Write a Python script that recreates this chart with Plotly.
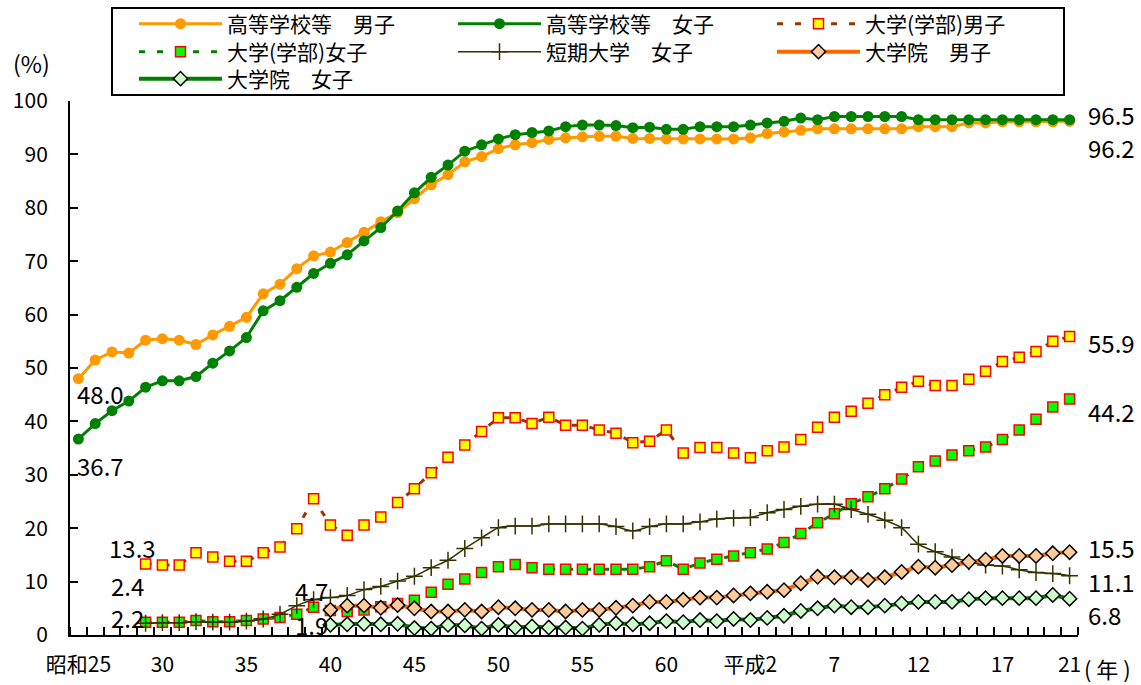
import plotly.graph_objects as go

# ---------------- data ----------------
years = list(range(1950, 2010))

hs_m = [48.0, 51.5, 53.0, 52.8, 55.2, 55.5, 55.2, 54.4, 56.2, 57.8,
        59.5, 63.9, 65.7, 68.6, 71.0, 71.7, 73.5, 75.4, 77.4, 79.1,
        81.7, 84.3, 86.2, 88.6, 89.6, 91.1, 91.8, 92.2, 92.8, 93.1,
        93.3, 93.4, 93.4, 93.0, 93.0, 92.9, 92.9, 92.9, 92.9, 92.9,
        93.1, 93.9, 94.2, 94.5, 94.8, 94.8, 94.8, 94.8, 94.8, 94.8,
        95.2, 95.2, 95.2, 95.9, 95.9, 96.1, 96.1, 96.1, 96.1, 96.2]

hs_f = [36.7, 39.6, 42.0, 43.8, 46.4, 47.6, 47.6, 48.4, 50.9, 53.2,
        55.7, 60.7, 62.6, 65.1, 67.7, 69.6, 71.2, 73.8, 76.3, 79.4,
        82.8, 85.7, 88.0, 90.6, 91.8, 92.9, 93.7, 94.1, 94.4, 95.2,
        95.5, 95.5, 95.4, 95.0, 95.1, 94.7, 94.7, 95.2, 95.2, 95.2,
        95.5, 95.9, 96.2, 96.8, 96.5, 97.1, 97.1, 97.1, 97.1, 97.1,
        96.5, 96.5, 96.5, 96.5, 96.5, 96.5, 96.5, 96.5, 96.5, 96.5]

N = None
univ_m = [N, N, N, N, 13.3, 13.1, 13.1, 15.4, 14.6, 13.8,
          13.8, 15.4, 16.5, 19.9, 25.5, 20.6, 18.7, 20.6, 22.1, 24.8,
          27.4, 30.4, 33.3, 35.6, 38.1, 40.7, 40.7, 39.6, 40.8, 39.3,
          39.3, 38.4, 37.8, 36.0, 36.3, 38.4, 34.1, 35.1, 35.1, 34.1,
          33.2, 34.5, 35.2, 36.6, 38.9, 40.8, 41.9, 43.4, 45.0, 46.4,
          47.5, 46.7, 46.7, 47.9, 49.4, 51.2, 52.0, 53.1, 55.0, 55.9]

univ_f = [N, N, N, N, 2.4, 2.4, 2.4, 2.7, 2.5, 2.5,
          2.7, 3.0, 3.3, 3.9, 5.2, 4.6, 4.4, 4.7, 5.3, 5.9,
          6.5, 8.0, 9.5, 10.5, 11.7, 12.8, 13.2, 12.6, 12.3, 12.3,
          12.3, 12.3, 12.3, 12.3, 12.8, 13.9, 12.3, 13.5, 14.2, 14.8,
          15.4, 16.1, 17.3, 19.0, 21.0, 22.7, 24.6, 25.9, 27.4, 29.2,
          31.5, 32.6, 33.7, 34.5, 35.2, 36.6, 38.4, 40.4, 42.7, 44.2]

jc_f = [N, N, N, N, 2.2, 2.3, 2.3, 2.5, 2.4, 2.4,
        2.6, 3.0, 3.9, 5.5, 6.6, 7.0, 7.4, 8.5, 9.1, 10.1,
        11.0, 12.6, 14.0, 16.2, 18.2, 20.1, 20.4, 20.4, 20.8, 20.8,
        20.8, 20.8, 20.3, 19.5, 20.3, 20.8, 20.8, 21.2, 21.7, 21.9,
        22.0, 22.9, 23.5, 24.1, 24.5, 24.5, 23.5, 22.6, 21.5, 20.1,
        17.0, 15.6, 14.6, 13.7, 13.1, 12.9, 12.2, 11.7, 11.5, 11.1]

gs_m = [N] * 15 + [
        4.7, 5.5, 5.5, 5.1, 5.6,
        5.0, 4.4, 4.4, 4.7, 4.4, 5.2, 5.0, 4.7, 4.7, 4.4,
        4.7, 4.7, 5.1, 5.5, 6.2, 6.2, 6.6, 7.0, 7.0, 7.4,
        7.8, 8.1, 8.4, 9.7, 10.9, 10.8, 10.8, 10.3, 10.8, 11.8,
        12.8, 12.6, 13.1, 13.7, 14.1, 14.8, 14.8, 14.8, 15.3, 15.5]

gs_f = [N] * 15 + [
        1.9, 2.0, 2.1, 2.0, 2.1,
        1.3, 1.2, 1.9, 1.8, 1.2, 1.9, 1.4, 1.6, 1.4, 1.4,
        1.2, 1.9, 2.2, 2.0, 2.2, 2.6, 2.4, 2.8, 2.6, 3.0,
        2.8, 3.2, 3.6, 4.5, 5.0, 5.5, 5.2, 5.2, 5.5, 5.9,
        6.2, 6.2, 6.2, 6.7, 6.9, 6.9, 6.9, 6.9, 7.5, 6.8]

series_names = ["高等学校等　男子", "高等学校等　女子", "大学(学部)男子",
                "大学(学部)女子", "短期大学　女子", "大学院　男子", "大学院　女子"]

x_tick_years = [1950, 1955, 1960, 1965, 1970, 1975, 1980, 1985,
                1990, 1995, 2000, 2005, 2009]
x_tick_text = ["昭和25", "30", "35", "40", "45", "50", "55", "60",
               "平成2", "7", "12", "17", "21"]

# value labels: (text, year position, value position)
left_labels = [("48.0", 1949.8, 45.3), ("36.7", 1949.8, 31.7),
               ("13.3", 1951.7, 16.4), ("2.4", 1951.8, 9.3),
               ("2.2", 1951.8, 3.3), ("4.7", 1962.8, 8.3),
               ("1.9", 1962.8, 2.0)]
right_labels = [("96.5", 97.5), ("96.2", 91.3), ("55.9", 54.7),
                ("44.2", 41.8), ("15.5", 16.4), ("11.1", 10.0), ("6.8", 3.8)]

FONT = "Noto Sans CJK JP"

# ---------------- geometry helpers (pixels -> paper) ----------------
W, H = 1141, 685
ML, MR, MT, MB = 70, 63, 101, 50
PW, PH = W - ML - MR, H - MT - MB


def px_x(px):
    return (px - ML) / PW


def px_y(py):
    return (H - MB - py) / PH


fig = go.Figure()

legend_of = ["legend", "legend", "legend", "legend2", "legend2", "legend2", "legend3"]

fig.add_trace(go.Scatter(
    x=years, y=hs_m, name=series_names[0], mode="lines+markers", legend=legend_of[0],
    line=dict(color="#FF9900", width=3),
    marker=dict(symbol="circle", size=11, color="#FF9900")))
fig.add_trace(go.Scatter(
    x=years, y=hs_f, name=series_names[1], mode="lines+markers", legend=legend_of[1],
    line=dict(color="#008000", width=3),
    marker=dict(symbol="circle", size=11, color="#008000")))
fig.add_trace(go.Scatter(
    x=years, y=univ_m, name=series_names[2], mode="lines+markers", legend=legend_of[2],
    line=dict(color="#993300", width=3, dash="6px,12px"),
    marker=dict(symbol="square", size=10, color="#FFFF00",
                line=dict(color="#FF0000", width=1.5))))
fig.add_trace(go.Scatter(
    x=years, y=univ_f, name=series_names[3], mode="lines+markers", legend=legend_of[3],
    line=dict(color="#008000", width=3, dash="6px,12px"),
    marker=dict(symbol="square", size=10, color="#00FF00",
                line=dict(color="#FF0000", width=1.5))))
fig.add_trace(go.Scatter(
    x=years, y=jc_f, name=series_names[4], mode="lines+markers", legend=legend_of[4],
    line=dict(color="#333300", width=1.5, shape="spline", smoothing=0.6),
    marker=dict(symbol="cross-thin", size=12, color="#333300",
                line=dict(color="#333300", width=1.5))))
fig.add_trace(go.Scatter(
    x=years, y=gs_m, name=series_names[5], mode="lines+markers", legend=legend_of[5],
    line=dict(color="#FF6600", width=4),
    marker=dict(symbol="diamond", size=11, color="#FFCC99",
                line=dict(color="#000000", width=1.5))))
fig.add_trace(go.Scatter(
    x=years, y=gs_f, name=series_names[6], mode="lines+markers", legend=legend_of[6],
    line=dict(color="#008000", width=4),
    marker=dict(symbol="diamond", size=11, color="#CCFFCC",
                line=dict(color="#000000", width=1.5))))

annotations = []
for t, xv, yv in left_labels:
    annotations.append(dict(x=xv, y=yv, xref="x", yref="y", text=t,
                            showarrow=False, xanchor="left", yanchor="middle",
                            font=dict(size=24, color="black", family=FONT)))
for t, yv in right_labels:
    annotations.append(dict(x=px_x(1086), y=yv, xref="paper", yref="y", text=t,
                            showarrow=False, xanchor="left", yanchor="middle",
                            font=dict(size=24, color="black", family=FONT)))
annotations.append(dict(x=px_x(11), y=px_y(63), xref="paper", yref="paper",
                        text="(%)", showarrow=False, xanchor="left",
                        yanchor="middle",
                        font=dict(size=23, color="black", family=FONT)))
annotations.append(dict(x=px_x(1082), y=px_y(668), xref="paper", yref="paper",
                        text="( 年 )", showarrow=False, xanchor="left",
                        yanchor="middle",
                        font=dict(size=22, color="black", family=FONT)))

leg_common = dict(orientation="h", xref="paper", yref="paper",
                  xanchor="left", yanchor="middle",
                  entrywidth=221, entrywidthmode="pixels", itemwidth=83,
                  font=dict(size=21, family=FONT, color="black"),
                  borderwidth=0, bgcolor="rgba(0,0,0,0)")

fig.update_layout(
    width=W, height=H,
    margin=dict(l=ML, r=MR, t=MT, b=MB, autoexpand=False),
    paper_bgcolor="white", plot_bgcolor="white",
    font=dict(family=FONT, size=21, color="black"),
    showlegend=True,
    legend=dict(x=px_x(134), y=px_y(24), **leg_common),
    legend2=dict(x=px_x(134), y=px_y(52), **leg_common),
    legend3=dict(x=px_x(134), y=px_y(79), **leg_common),
    annotations=annotations,
    shapes=[dict(type="rect", xref="paper", yref="paper",
                 x0=px_x(112), x1=px_x(1064), y0=px_y(95), y1=px_y(8),
                 line=dict(color="black", width=2), fillcolor="rgba(0,0,0,0)",
                 layer="above")],
)

fig.update_xaxes(
    range=[1949.5, 2009.5], showgrid=False, zeroline=False, automargin=False,
    showline=True, linecolor="black", linewidth=2,
    tickmode="array", tickvals=x_tick_years, ticktext=x_tick_text,
    ticks="", ticklabelstandoff=10,
    tickfont=dict(size=21, family=FONT, color="black"),
    minor=dict(tickmode="linear", tick0=1949.5, dtick=1, ticks="inside",
               ticklen=8, tickwidth=1.5, tickcolor="black", showgrid=False),
)
fig.update_yaxes(
    range=[0, 100], showgrid=False, zeroline=False, automargin=False,
    showline=True, linecolor="black", linewidth=2,
    tickmode="linear", tick0=0, dtick=10,
    ticks="inside", ticklen=8, tickwidth=1.5, tickcolor="black",
    ticklabelstandoff=16,
    tickfont=dict(size=21, family=FONT, color="black"),
)

fig.write_html("out.html",
               config={"displayModeBar": False},
               post_script="document.body.style.margin='0';"
                           "document.body.style.overflow='hidden';")
